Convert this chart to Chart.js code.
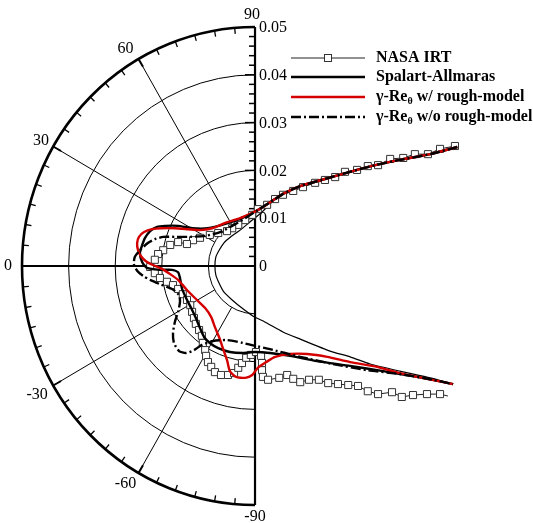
<!DOCTYPE html>
<html>
<head>
<meta charset="utf-8">
<script src="https://cdn.jsdelivr.net/npm/chart.js@4.4.0/dist/chart.umd.min.js"></script>
<style>
  html, body { margin: 0; padding: 0; background: #fff; }
  #box { width: 533px; height: 523px; position: relative; }
</style>
</head>
<body>
<div id="box"><canvas id="chart"></canvas></div>
<script>
// ice shapes, x/c and y/c (plotted on the polar frame, radius = thickness)
// upper surface part that all curves share
const surfX = [0.0434, 0.0376, 0.0311, 0.0258, 0.0204, 0.0150, 0.0097, 0.0060, 0.0043];
const surfY = [0.0249, 0.0234, 0.0222, 0.0211, 0.0197, 0.0182, 0.0167, 0.0151, 0.0140];

// clean airfoil
const cleanX = [0.0015, -0.0011, -0.0032, -0.0052, -0.0067, -0.0077, -0.0084, -0.0086,
  -0.0084, -0.0077, -0.0067, -0.0049, -0.0028, -0.0004, 0.0021, 0.0060, 0.0097, 0.0161,
  0.0204, 0.0247, 0.0311, 0.0376, 0.0425];
const cleanY = [0.0113, 0.0092, 0.0075, 0.0061, 0.0048, 0.0033, 0.0019, 0,
  -0.0019, -0.0036, -0.0054, -0.0071, -0.0088, -0.0105, -0.0117, -0.0138, -0.0153, -0.0178,
  -0.0190, -0.0205, -0.0220, -0.0234, -0.0247];

// Spalart-Allmaras
const saX = [0.0006, -0.0028, -0.0064, -0.0101, -0.0135, -0.0165, -0.0193, -0.0210, -0.0225,
  -0.0236, -0.0242, -0.0247, -0.0242, -0.0232, -0.0204, -0.0178, -0.0165, -0.0161, -0.0157,
  -0.0148, -0.0137, -0.0127, -0.0118, -0.0109, -0.0097, -0.0079, -0.0054, -0.0026, 0,
  0.0032, 0.0075, 0.0133, 0.0204, 0.0275, 0.0348, 0.0425];
const saY = [0.0117, 0.0100, 0.0088, 0.0079, 0.0079, 0.0084, 0.0084, 0.0082, 0.0073,
  0.0059, 0.0044, 0.0027, 0.0008, -0.0004, -0.0008, -0.0008, -0.0013, -0.0025, -0.0046,
  -0.0067, -0.0088, -0.0109, -0.0130, -0.0149, -0.0161, -0.0172, -0.0180, -0.0182, -0.0180,
  -0.0182, -0.0188, -0.0199, -0.0209, -0.0220, -0.0232, -0.0247];

// gamma-Re_theta with roughness model
const roughX = [0.0006, -0.0032, -0.0064, -0.0092, -0.0118, -0.0144, -0.0172, -0.0200, -0.0221,
  -0.0238, -0.0249, -0.0253, -0.0251, -0.0245, -0.0234, -0.0219, -0.0200, -0.0182, -0.0165,
  -0.0148, -0.0129, -0.0107, -0.0094, -0.0086, -0.0077, -0.0069, -0.0060, -0.0054, -0.0041,
  -0.0021, -0.0006, 0.0006, 0.0024, 0.0043, 0.0075, 0.0112, 0.0155, 0.0204, 0.0262, 0.0311,
  0.0369, 0.0425];
const roughY = [0.0117, 0.0100, 0.0090, 0.0079, 0.0075, 0.0077, 0.0079, 0.0079, 0.0077,
  0.0071, 0.0061, 0.0048, 0.0033, 0.0021, 0.0010, 0.0002, -0.0006, -0.0017, -0.0029,
  -0.0048, -0.0067, -0.0088, -0.0107, -0.0128, -0.0149, -0.0172, -0.0197, -0.0220, -0.0232,
  -0.0234, -0.0228, -0.0213, -0.0201, -0.0190, -0.0184, -0.0184, -0.0190, -0.0201, -0.0211,
  -0.0224, -0.0236, -0.0247];

// gamma-Re_theta without roughness model
const smoothX = [0.0006, -0.0021, -0.0049, -0.0075, -0.0107, -0.0139, -0.0172, -0.0197, -0.0215,
  -0.0230, -0.0247, -0.0258, -0.0260, -0.0253, -0.0240, -0.0225, -0.0204, -0.0178, -0.0163,
  -0.0161, -0.0165, -0.0172, -0.0176, -0.0174, -0.0163, -0.0148, -0.0131, -0.0114, -0.0090,
  -0.0060, -0.0026, 0, 0.0032, 0.0097, 0.0167, 0.0240, 0.0311, 0.0382, 0.0425];
const smoothY = [0.0117, 0.0100, 0.0084, 0.0071, 0.0063, 0.0061, 0.0061, 0.0061, 0.0056,
  0.0048, 0.0033, 0.0019, 0.0004, -0.0010, -0.0021, -0.0029, -0.0038, -0.0048, -0.0061,
  -0.0075, -0.0096, -0.0117, -0.0140, -0.0161, -0.0178, -0.0182, -0.0176, -0.0165, -0.0157,
  -0.0155, -0.0161, -0.0167, -0.0174, -0.0190, -0.0205, -0.0218, -0.0226, -0.0238, -0.0247];

// NASA IRT experiment
const nasaX = [0.0429, 0.0397, 0.0371, 0.0343, 0.0318, 0.0290, 0.0264, 0.0242, 0.0219, 0.0193,
  0.0172, 0.0150, 0.0129, 0.0103, 0.0082, 0.0060, 0.0043, 0.0026, 0.0006, -0.0006,
  -0.0021, -0.0036, -0.0049, -0.0060, -0.0079, -0.0097, -0.0118, -0.0133, -0.0146, -0.0165,
  -0.0182, -0.0197, -0.0208, -0.0215, -0.0225, -0.0215, -0.0204, -0.0189, -0.0176, -0.0165,
  -0.0155, -0.0146, -0.0139, -0.0135, -0.0131, -0.0127, -0.0120, -0.0114, -0.0112, -0.0107,
  -0.0105, -0.0101, -0.0094, -0.0086, -0.0073, -0.0058, -0.0045, -0.0036, -0.0028, -0.0019,
  -0.0009, 0.0002, 0.0013, 0.0015, 0.0015, 0.0017, 0.0028, 0.0052, 0.0069, 0.0082,
  0.0097, 0.0116, 0.0137, 0.0157, 0.0178, 0.0200, 0.0221, 0.0242, 0.0264, 0.0294,
  0.0315, 0.0339, 0.0369, 0.0397, 0.0414];
const nasaY = [0.0251, 0.0245, 0.0234, 0.0234, 0.0226, 0.0224, 0.0211, 0.0209, 0.0201, 0.0197,
  0.0186, 0.0180, 0.0174, 0.0165, 0.0157, 0.0149, 0.0140, 0.0128, 0.0119, 0.0107,
  0.0096, 0.0086, 0.0079, 0.0073, 0.0069, 0.0065, 0.0059, 0.0054, 0.0046, 0.0050,
  0.0044, 0.0033, 0.0025, 0.0013, -0.0002, -0.0015, -0.0025, -0.0033, -0.0040, -0.0048,
  -0.0059, -0.0071, -0.0082, -0.0096, -0.0109, -0.0121, -0.0134, -0.0146, -0.0161, -0.0176,
  -0.0188, -0.0201, -0.0211, -0.0222, -0.0228, -0.0228, -0.0224, -0.0213, -0.0203, -0.0192,
  -0.0186, -0.0180, -0.0188, -0.0203, -0.0218, -0.0232, -0.0238, -0.0234, -0.0228, -0.0236,
  -0.0243, -0.0238, -0.0238, -0.0245, -0.0247, -0.0249, -0.0251, -0.0262, -0.0268, -0.0264,
  -0.0274, -0.0270, -0.0268, -0.0268, -0.0272];

// polar frame
const ringValues = [0.01, 0.02, 0.03, 0.04, 0.05];
const radialTicks = [0, 0.01, 0.02, 0.03, 0.04, 0.05];
const radialLabels = ["0", "0.01", "0.02", "0.03", "0.04", "0.05"];
const angleTicks = [90, 60, 30, 0, -30, -60, -90];
const legendNames = ["NASA IRT", "Spalart-Allmaras", "γ-Re|θ| w/ rough-model", "γ-Re|θ| w/o rough-model"];

const RED = "#d40000";
const SERIF = '"Liberation Serif", "DejaVu Serif", serif';

function toPoints(xs, ys) {
  return xs.map((v, i) => ({ x: v, y: ys[i] }));
}
const withSurf = (xs, ys) => toPoints(surfX.concat(xs), surfY.concat(ys));

// rings, spokes, axes
const polarFrame = {
  id: "polarFrame",
  beforeDatasetsDraw(chart) {
    const { ctx, scales: { x, y } } = chart;
    const cx = x.getPixelForValue(0), cy = y.getPixelForValue(0);
    const rx = r => cx - x.getPixelForValue(-r);
    const ry = r => cy - y.getPixelForValue(r);
    const rMax = ringValues[ringValues.length - 1];
    const pt = (r, deg, inset) => {
      const a = deg * Math.PI / 180;
      return [cx - (rx(r) - (inset || 0)) * Math.cos(a), cy - (ry(r) - (inset || 0)) * Math.sin(a)];
    };
    ctx.save();
    ctx.strokeStyle = "#000";
    ringValues.forEach(r => {
      ctx.lineWidth = r === rMax ? 2.6 : 1;
      ctx.beginPath();
      ctx.ellipse(cx, cy, rx(r), ry(r), 0, Math.PI / 2, Math.PI * 1.5);
      ctx.stroke();
    });
    // spokes
    ctx.lineWidth = 1;
    [60, 30, -30, -60].forEach(d => {
      const p0 = pt(ringValues[0], d), p1 = pt(rMax, d);
      ctx.beginPath(); ctx.moveTo(p0[0], p0[1]); ctx.lineTo(p1[0], p1[1]); ctx.stroke();
    });
    // ticks on the outer arc every 5 deg
    for (let d = -85; d <= 85; d += 5) {
      if (d === 0) continue;
      const major = d % 30 === 0;
      ctx.lineWidth = major ? 2 : 1.3;
      const p0 = pt(rMax, d), p1 = pt(rMax, d, major ? 9 : 6);
      ctx.beginPath(); ctx.moveTo(p0[0], p0[1]); ctx.lineTo(p1[0], p1[1]); ctx.stroke();
    }
    // axes
    ctx.lineWidth = 2.2;
    ctx.beginPath();
    ctx.moveTo(cx - rx(rMax), cy); ctx.lineTo(cx, cy);
    ctx.moveTo(cx, cy - ry(rMax)); ctx.lineTo(cx, cy + ry(rMax));
    ctx.stroke();
    // ticks on the radial axis (upper half)
    ctx.lineWidth = 1.5;
    for (let k = 0; k <= 25; k++) {
      const py = y.getPixelForValue(k * 0.002);
      const len = k % 5 === 0 ? 10 : 6;
      ctx.beginPath(); ctx.moveTo(cx - len, py); ctx.lineTo(cx, py); ctx.stroke();
    }
    ctx.restore();
  },
  afterDraw(chart) {
    const { ctx, scales: { x, y } } = chart;
    const cx = x.getPixelForValue(0), cy = y.getPixelForValue(0);
    const rMax = ringValues[ringValues.length - 1];
    const rxo = cx - x.getPixelForValue(-rMax), ryo = cy - y.getPixelForValue(rMax);
    ctx.save();
    ctx.fillStyle = "#000";
    ctx.font = "16px " + SERIF;
    ctx.textBaseline = "middle";
    ctx.textAlign = "left";
    radialTicks.forEach((v, i) => {
      ctx.fillText(radialLabels[i], cx + 4, y.getPixelForValue(v) + 1);
    });
    ctx.textAlign = "center";
    angleTicks.forEach(d => {
      const a = d * Math.PI / 180;
      let px = cx - (rxo + 14) * Math.cos(a);
      let py = cy - (ryo + 12) * Math.sin(a);
      if (Math.abs(d) === 60) px -= 6;
      if (d === -30) { px -= 4; py += 3; }
      if (d === 90) px -= 3;
      ctx.fillText(String(d), px, py);
    });

    // legend
    const rows = [58, 77, 97, 117];
    const x0 = 291, x1 = 365, tx = 376;
    rows.forEach((ly, i) => {
      ctx.save();
      ctx.strokeStyle = "#000";
      ctx.lineWidth = 2.4;
      if (i === 0) { ctx.lineWidth = 1; ctx.strokeStyle = "#222"; }
      if (i === 2) ctx.strokeStyle = RED;
      if (i === 3) ctx.setLineDash([10, 3, 2, 3]);
      ctx.beginPath(); ctx.moveTo(x0, ly); ctx.lineTo(x1, ly); ctx.stroke();
      if (i === 0) {
        ctx.fillStyle = "#fff"; ctx.strokeStyle = "#333";
        ctx.fillRect(324.5, ly - 3.5, 7, 7);
        ctx.strokeRect(324.5, ly - 3.5, 7, 7);
      }
      ctx.restore();
      // text, with subscript parts between | |
      const parts = legendNames[i].split("|");
      let px = tx;
      ctx.textAlign = "left";
      parts.forEach((p, j) => {
        const sub = j % 2 === 1;
        ctx.font = "bold " + (sub ? 10 : 16) + "px " + SERIF;
        ctx.fillText(p, px, ly + (sub ? 4 : 0));
        px += ctx.measureText(p).width;
      });
    });
    ctx.restore();
  }
};

const nasaLast = nasaX.length - 1;

new Chart(document.getElementById("chart"), {
  type: "scatter",
  data: {
    datasets: [
      {
        label: "γ-Reθ w/o rough-model",
        data: withSurf(smoothX, smoothY),
        showLine: true, borderColor: "#000", borderWidth: 2.4, borderDash: [10, 3, 2, 3],
        pointRadius: 0, tension: 0.2, order: 0
      },
      {
        label: "γ-Reθ w/ rough-model",
        data: withSurf(roughX, roughY),
        showLine: true, borderColor: RED, borderWidth: 2.4,
        pointRadius: 0, tension: 0.2, order: 1
      },
      {
        label: "Spalart-Allmaras",
        data: withSurf(saX, saY),
        showLine: true, borderColor: "#000", borderWidth: 2.4,
        pointRadius: 0, tension: 0.2, order: 2
      },
      {
        label: "NASA IRT",
        data: toPoints(nasaX, nasaY),
        showLine: true, borderColor: "#222", borderWidth: 1,
        pointStyle: "rect",
        pointRadius: c => (c.dataIndex === nasaLast ? 0 : 5),
        pointBorderColor: "#333", pointBackgroundColor: "#fff", pointBorderWidth: 1,
        tension: 0, order: 3
      },
      {
        label: "clean",
        data: withSurf(cleanX, cleanY),
        showLine: true, borderColor: "#000", borderWidth: 1.2,
        pointRadius: 0, tension: 0.2, order: 4
      }
    ]
  },
  options: {
    responsive: true,
    maintainAspectRatio: false,
    animation: false,
    layout: { padding: { left: 22, right: 17, top: 27, bottom: 18 } },
    scales: {
      x: { type: "linear", min: -0.05, max: 0.056, display: false },
      y: { type: "linear", min: -0.05, max: 0.05, display: false }
    },
    plugins: {
      legend: { display: false },
      tooltip: { enabled: false }
    }
  },
  plugins: [polarFrame]
});
</script>
</body>
</html>
